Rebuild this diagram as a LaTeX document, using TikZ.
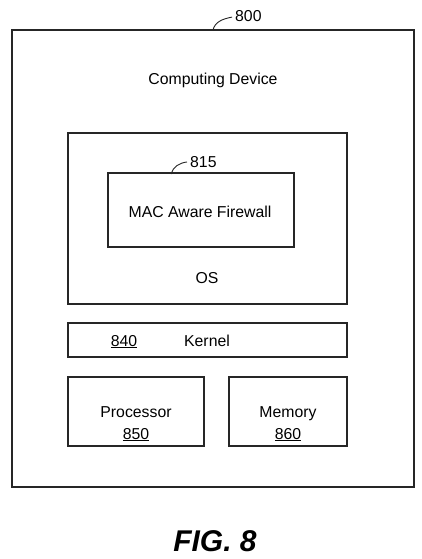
\documentclass[tikz,border=0pt]{standalone}
\usepackage{fontspec}
\setmainfont{Liberation Sans}
\begin{document}
\begin{tikzpicture}[x=1pt,y=-1pt,
  box/.style={draw=black!85,line width=1.3pt},
  lbl/.style={font=\fontsize{15.8}{18}\selectfont,inner sep=0pt,anchor=base},
  lead/.style={draw=black!85,line width=0.9pt}]
\useasboundingbox[fill=white] (0,0) rectangle (422,559);
% boxes
\draw[box] (12,30) rectangle (414,487);
\draw[box] (68,133) rectangle (347,304);
\draw[box] (108,173) rectangle (294,247);
\draw[box] (68,323) rectangle (347,357);
\draw[box] (68,377) rectangle (204,446);
\draw[box] (229,377) rectangle (347,446);
% labels
\node[lbl] (dev) at (213,85) {Computing Device};
\node[lbl] (os) at (207,283) {OS};
\node[lbl] (fw) at (200,217) {MAC Aware Firewall};
\node[lbl] (kn) at (207,346) {Kernel};
\node[lbl] (kr) at (124,346) {\underline{840}};
\node[lbl] (pr) at (136,417) {Processor};
\node[lbl] (prn) at (136,439) {\underline{850}};
\node[lbl] (me) at (288,417) {Memory};
\node[lbl] (men) at (288,439) {\underline{860}};
\node[lbl,anchor=base west] (r800) at (235,22) {800};
\node[lbl,anchor=base west] (r815) at (190,167) {815};
\coordinate (c800) at (213,30);
\coordinate (c815) at (171,174);
\draw[lead,shorten >=3pt] (c800) .. controls (215,22) and (222,19) .. (r800.west);
\draw[lead,shorten >=3pt] (c815) .. controls (173,167) and (179,163) .. (r815.west);
\node[inner sep=0pt,anchor=base,font=\fontsize{30}{34}\selectfont\bfseries\itshape] (fig) at (215,551) {FIG. 8};
\end{tikzpicture}
\end{document}
